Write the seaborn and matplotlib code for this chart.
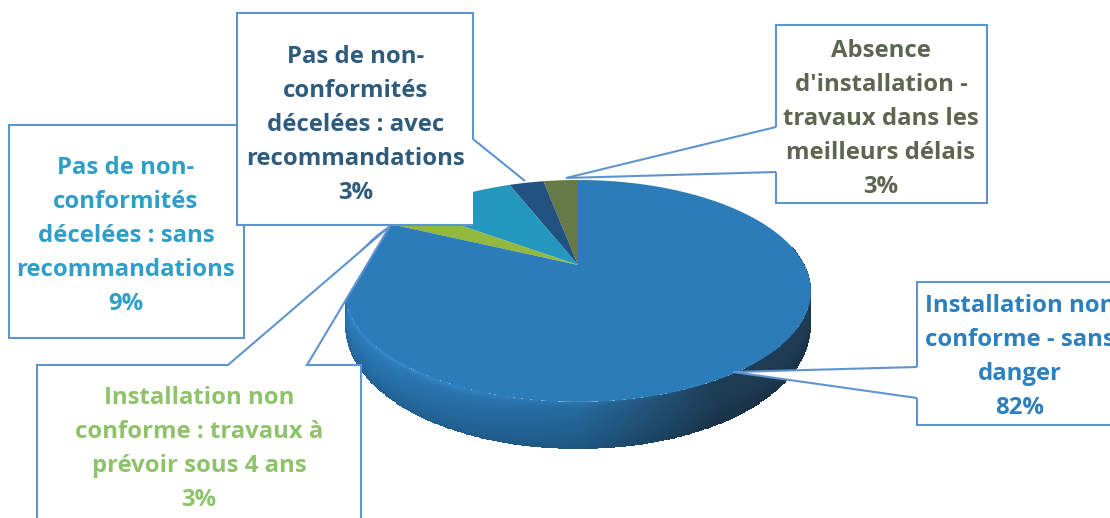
import numpy as np
import matplotlib
matplotlib.use("Agg")
import matplotlib.pyplot as plt
from matplotlib.path import Path
from matplotlib.patches import Polygon
from matplotlib.transforms import Transform, Affine2D
from matplotlib.colors import to_rgb
import seaborn as sns

# ---- data -------------------------------------------------------------
categories = [
    "Absence\nd'installation -\ntravaux dans les\nmeilleurs délais",
    "Pas de non-\nconformités\ndécelées : avec\nrecommandations",
    "Pas de non-\nconformités\ndécelées : sans\nrecommandations",
    "Installation non\nconforme : travaux à\nprévoir sous 4 ans",
    "Installation non\nconforme - sans\ndanger",
]
values = [3, 3, 9, 3, 82]
slice_colors = ["#667a45", "#22527f", "#2397bd", "#93b83e", "#2b7cb9"]
text_colors = ["#5c6650", "#2f5b7c", "#2f9fc9", "#8fc36a", "#2d80bd"]

sns.set_style("white")
plt.rcParams["font.family"] = ["Open Sans", "DejaVu Sans"]

W, H = 1110, 518
fig = plt.figure(figsize=(W / 100, H / 100), dpi=100)
ax = fig.add_axes([0, 0, 1, 1])

# ---- tilted-disc geometry (pixels) ------------------------------------
CX, CY, A, B, K = 578.0, 265.0, 226.5, 104.9, 0.234
DEPTH = 47.0


class Tilt(Transform):
    input_dims = output_dims = 2
    has_inverse = False
    is_affine = False

    def transform_non_affine(self, v):
        v = np.asarray(v, float)
        w = 1 + K * v[:, 1]
        return np.c_[CX + A * v[:, 0] / w, CY - B * v[:, 1] / w]

    def transform_path_non_affine(self, path):
        big = path.transformed(Affine2D().scale(2000))
        polys = big.to_polygons(closed_only=False)
        return Path(self.transform_non_affine(polys[0] / 2000))


tilt = Tilt()

wedges, _ = ax.pie(values, colors=slice_colors, startangle=90, counterclock=True,
                   radius=1, wedgeprops=dict(linewidth=0, zorder=3))
for wd in wedges:
    wd.set_transform(tilt + ax.transData)

ax.set_aspect("auto")
ax.set_xlim(0, W)
ax.set_ylim(H, 0)
ax.axis("off")

# ---- rim of the disc, shaded ------------------------------------------
theta = np.radians(np.linspace(170, 370, 361))
depth = np.linspace(0, 1, 41)
cx, cy = np.cos(theta), np.sin(theta)
rim = tilt.transform_non_affine(np.c_[cx, cy])
persp = 0.62 + 0.38 * np.clip(-cy, 0, 1)
X = np.outer(np.ones_like(depth), rim[:, 0])
Y = rim[:, 1][None, :] + depth[:, None] * DEPTH * persp[None, :]

left, mid, right = map(np.array, map(to_rgb, ["#2a7ab8", "#24679a", "#1e3d55"]))
xm = 0.5 * (X[:-1, :-1] + X[:-1, 1:])
dm = 0.5 * (depth[:-1, None] + depth[1:, None]) * np.ones_like(xm)
u = np.clip((xm - 345) / 467, 0, 1)[..., None]
base = np.where(u < 0.5, left + (mid - left) * (u / 0.5),
                mid + (right - mid) * np.clip((u - 0.5) / 0.3, 0, 1))
glow = np.exp(-dm / 0.10)[..., None] * np.clip(1 - 1.3 * u, 0, 1) * 0.9
rgb = base + (np.array(to_rgb("#3f97dc")) - base) * glow
rgb = rgb * (1 - 0.18 * dm[..., None] ** 2)
ax.pcolormesh(X, Y, np.clip(rgb, 0, 1), shading="flat", linewidth=0,
              antialiased=False, edgecolor="face", zorder=2)

# ---- callouts ---------------------------------------------------------
EDGE = "#5f94cf"


def white(pts, z):
    ax.add_patch(Polygon(pts, closed=True, fc="white", ec="none", zorder=z))


def stroke(pts, z, color=EDGE):
    p = np.array(pts)
    ax.plot(p[:, 0], p[:, 1], color=color, lw=1.5, solid_joinstyle="miter",
            solid_capstyle="butt", zorder=z, scalex=False, scaley=False)


# Absence d'installation
white([(776, 25), (987, 25), (987, 203), (776, 203), (776, 172), (566, 178), (776, 127)], 5)
stroke([(776, 127), (776, 25), (987, 25), (987, 203), (776, 203), (776, 172)], 6)
stroke([(776, 127), (566, 178), (776, 172)], 6)
# Installation non conforme - sans danger
white([(917, 282), (1112, 282), (1112, 425), (917, 425), (917, 398), (733, 372), (917, 367)], 5)
stroke([(917, 367), (917, 282), (1112, 282)], 6)
stroke([(1112, 425), (917, 425), (917, 398)], 6)
stroke([(917, 367), (733, 372), (917, 398)], 6)
# Pas de non-conformités sans recommandations
white([(9, 125), (245, 125), (245, 338), (9, 338)], 5)
stroke([(237, 125), (9, 125), (9, 338), (244, 338), (244, 225)], 6)
# Pas de non-conformités avec recommandations
white([(237, 13), (473, 13), (473, 139), (525, 181), (473, 190), (473, 225), (237, 225)], 7)
stroke([(473, 225), (237, 225), (237, 13), (473, 13), (473, 139), (525, 181)], 8)
# Installation non conforme travaux
white([(37, 365), (228, 365), (390, 226), (307, 365), (361, 365), (361, 520), (37, 520)], 7)
stroke([(361, 520), (361, 365), (307, 365), (390, 226), (228, 365), (37, 365), (37, 520)], 8)

# ---- labels -----------------------------------------------------------
label_x = [881, 356, 126, 199, 1020]
label_top = [51, 57, 168, 398, 306]
FS = 17.2
STEP = 34.1
for name, val, col, x, y0 in zip(categories, values, text_colors, label_x, label_top):
    lines = name.split("\n") + [f"{val}%"]
    for i, line in enumerate(lines):
        ax.text(x, y0 + i * STEP, line, ha="center", va="center", color=col,
                fontsize=FS, fontweight="bold", zorder=10, clip_on=True)

fig.savefig("out.png", dpi=100, facecolor="white")
